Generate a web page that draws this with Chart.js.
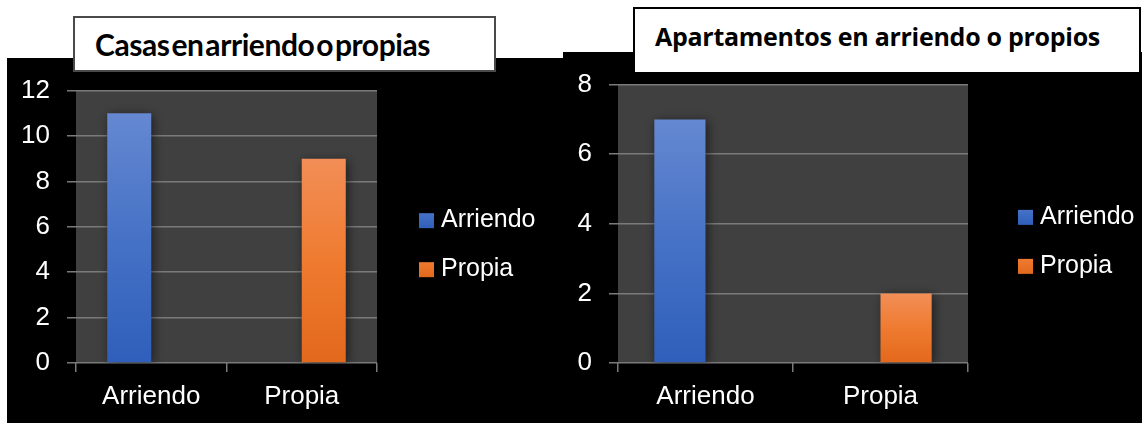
<!DOCTYPE html>
<html lang="es">
<head>
<meta charset="utf-8">
<title>Casas y apartamentos en arriendo o propios</title>
<script src="https://cdn.jsdelivr.net/npm/chart.js@4.4.1/dist/chart.umd.min.js"></script>
<style>
  html, body { margin: 0; padding: 0; background: #fff; }
  body { position: relative; width: 1142px; height: 423px; overflow: hidden; }
  .panel { position: absolute; background: #000; }
  #panel-casas { left: 7px; top: 58px; width: 556px; height: 365px; }
  #panel-aptos { left: 563px; top: 52px; width: 579px; height: 371px; }
  canvas { position: absolute; }
  #chart-casas { left: 7px; top: 58px; }
  #chart-aptos { left: 563px; top: 52px; }
  .title-box { position: absolute; background: #fff; box-sizing: border-box; color: #000; white-space: nowrap; }
  .title-box span { position: absolute; left: 20px; }
  #title-casas { left: 73px; top: 16px; width: 423px; height: 56px; border: 2px solid #4a4a4a; }
  #title-casas span { top: 8px; font: bold 30px Lato, "Open Sans", sans-serif; word-spacing: -5px; }
  #title-aptos { left: 633px; top: 7px; width: 508px; height: 67px; border: 2px solid #000; }
  #title-aptos span { top: 10px; font: bold 25px "Open Sans", "Noto Sans", sans-serif; }
</style>
</head>
<body>
<div class="panel" id="panel-casas"></div>
<div class="panel" id="panel-aptos"></div>
<canvas id="chart-casas" width="556" height="365"></canvas>
<canvas id="chart-aptos" width="579" height="371"></canvas>
<div class="title-box" id="title-casas"><span>Casas en arriendo o propias</span></div>
<div class="title-box" id="title-aptos"><span>Apartamentos en arriendo o propios</span></div>

<script>
// categorías y series (Excel: cada serie solo tiene valor en su categoría)
const categories = ['Arriendo', 'Propia'];
const seriesNames = ['Arriendo', 'Propia'];

const casasArriendo = [11, null];
const casasPropia = [null, 9];
const casasMax = 12;

const aptosArriendo = [7, null];
const aptosPropia = [null, 2];
const aptosMax = 8;

const yStep = 2;

// degradados: arriba, medio, abajo
const blueStops = ['#6588d1', '#4672c6', '#2f5fbb'];
const orangeStops = ['#f28e57', '#ef7b30', '#e2681c'];

const gridColor = '#7a7a7a';
const tickFont = { family: '"Liberation Sans", Arial, sans-serif', size: 26 };
const labelFont = { family: '"Liberation Sans", Arial, sans-serif', size: 26 };
const legendFont = { family: '"Liberation Sans", Arial, sans-serif', size: 25 };

/** relleno degradado por barra (de la punta a la base) */
function barGradient(stops) {
  return (ctx) => {
    const chart = ctx.chart;
    if (!chart.chartArea || ctx.raw == null) return stops[1];
    const top = chart.scales.y.getPixelForValue(ctx.raw);
    const base = chart.scales.y.getPixelForValue(0);
    const g = chart.ctx.createLinearGradient(0, top, 0, base);
    g.addColorStop(0, stops[0]);
    g.addColorStop(0.5, stops[1]);
    g.addColorStop(1, stops[2]);
    return g;
  };
}

// fondo gris del área de trazado
const plotBackground = {
  id: 'plotBackground',
  beforeDraw(chart) {
    const { ctx, chartArea: a } = chart;
    ctx.save();
    ctx.fillStyle = '#404040';
    ctx.fillRect(a.left, a.top, a.width, a.height);
    ctx.restore();
  }
};

// sombra suave detrás de las barras
const barShadow = {
  id: 'barShadow',
  beforeDatasetsDraw(chart) {
    const ctx = chart.ctx;
    ctx.save();
    ctx.shadowColor = 'rgba(0,0,0,0.55)';
    ctx.shadowBlur = 10;
    ctx.shadowOffsetX = 2;
    ctx.shadowOffsetY = 2;
  },
  afterDatasetsDraw(chart) {
    chart.ctx.restore();
  }
};

// leyenda a la derecha, como en Excel
const sideLegend = {
  id: 'sideLegend',
  afterDraw(chart, args, opts) {
    const { ctx, chartArea: a } = chart;
    const x = a.right + opts.offsetX;
    let y = a.top + a.height * 0.45;
    ctx.save();
    ctx.font = legendFont.size + 'px ' + legendFont.family;
    ctx.textBaseline = 'middle';
    chart.data.datasets.forEach((ds, i) => {
      const stops = i === 0 ? blueStops : orangeStops;
      const g = ctx.createLinearGradient(0, y, 0, y + 15);
      g.addColorStop(0, stops[1]);
      g.addColorStop(1, stops[2]);
      ctx.fillStyle = g;
      ctx.fillRect(x, y, 15, 15);
      ctx.fillStyle = '#fff';
      ctx.fillText(ds.label, x + 22, y + 7);
      y += 49;
    });
    ctx.restore();
  }
};

function makeChart(id, arriendo, propia, yMax, opts) {
  return new Chart(document.getElementById(id), {
    type: 'bar',
    data: {
      labels: categories,
      datasets: [
        { label: seriesNames[0], data: arriendo, backgroundColor: barGradient(blueStops) },
        { label: seriesNames[1], data: propia, backgroundColor: barGradient(orangeStops) }
      ]
    },
    options: {
      responsive: false,
      animation: false,
      datasets: { bar: { barPercentage: 1, categoryPercentage: 0.585, borderWidth: 0 } },
      layout: { padding: { left: 0, top: 29, right: opts.padRight, bottom: 0 } },
      plugins: {
        legend: { display: false },
        tooltip: { enabled: false },
        sideLegend: { offsetX: opts.legendX }
      },
      scales: {
        x: {
          offset: true,
          grid: { offset: true, drawOnChartArea: false, drawTicks: true, tickLength: 9, color: gridColor, lineWidth: 1.5 },
          border: { display: false },
          ticks: { color: '#fff', font: labelFont, padding: 9 },
          afterFit: (s) => { s.height = 60; }
        },
        y: {
          min: 0,
          max: yMax,
          ticks: { stepSize: yStep, color: '#fff', font: tickFont, padding: 17 },
          grid: { color: gridColor, lineWidth: 1.5, tickLength: 9 },
          border: { display: false },
          afterFit: (s) => { s.width = opts.yWidth; }
        }
      }
    },
    plugins: [plotBackground, barShadow, sideLegend]
  });
}

makeChart('chart-casas', casasArriendo, casasPropia, casasMax, { padRight: 186, yWidth: 69, legendX: 42 });
makeChart('chart-aptos', aptosArriendo, aptosPropia, aptosMax, { padRight: 174, yWidth: 55, legendX: 50 });

// ajustar el ancho de los títulos al del original
function fitTitle(id, target) {
  const span = document.querySelector('#' + id + ' span');
  const w = span.getBoundingClientRect().width;
  const n = span.textContent.length;
  span.style.letterSpacing = ((target - w) / n) + 'px';
}
fitTitle('title-casas', 335);
fitTitle('title-aptos', 445);
</script>
</body>
</html>
